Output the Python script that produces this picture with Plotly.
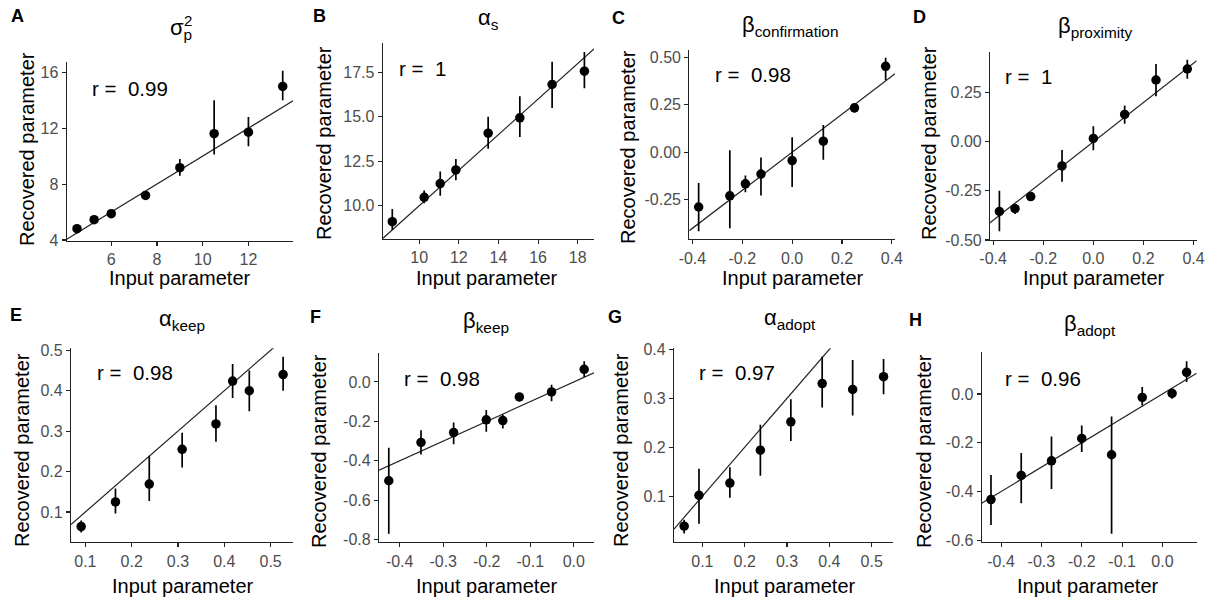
import numpy as np
import plotly.graph_objects as go

W, H = 1213, 598

# ---------------- data ----------------
letters = ["A", "B", "C", "D", "E", "F", "G", "H"]
titles = ["σ<sub>p</sub>", "α<sub>s</sub>", "β<sub>confirmation</sub>", "β<sub>proximity</sub>",
          "α<sub>keep</sub>", "β<sub>keep</sub>", "α<sub>adopt</sub>", "β<sub>adopt</sub>"]
r_values = ["0.99", "1", "0.98", "1", "0.98", "0.98", "0.97", "0.96"]

a_input = [4.5, 5.25, 6, 7.5, 9, 10.5, 12, 13.5]
a_mean = [4.81, 5.45, 5.88, 7.19, 9.17, 11.6, 11.71, 14.98]
a_lo = [4.66, 5.33, 5.76, 6.98, 8.6, 10.12, 10.7, 14.0]
a_hi = [4.96, 5.57, 6.0, 7.4, 9.8, 14.0, 12.8, 16.1]

b_input = [8.64, 10.25, 11.06, 11.85, 13.48, 15.08, 16.71, 18.34]
b_mean = [9.1, 10.47, 11.24, 12.01, 14.08, 14.94, 16.82, 17.57]
b_lo = [8.63, 10.13, 10.55, 11.43, 13.2, 13.86, 15.5, 16.6]
b_hi = [9.81, 10.85, 11.92, 12.63, 15.0, 16.15, 18.1, 18.65]

c_input = [-0.375, -0.25, -0.1875, -0.125, 0.0, 0.125, 0.25, 0.375]
c_mean = [-0.288, -0.229, -0.166, -0.115, -0.044, 0.058, 0.234, 0.452]
c_lo = [-0.415, -0.40, -0.211, -0.227, -0.183, -0.04, 0.208, 0.379]
c_hi = [-0.162, 0.01, -0.122, -0.028, 0.079, 0.143, 0.25, 0.497]

d_input = [-0.375, -0.3125, -0.25, -0.125, 0.0, 0.125, 0.25, 0.375]
d_mean = [-0.355, -0.34, -0.279, -0.123, 0.017, 0.139, 0.314, 0.37]
d_lo = [-0.456, -0.368, -0.3, -0.204, -0.044, 0.091, 0.231, 0.321]
d_hi = [-0.25, -0.318, -0.258, -0.042, 0.079, 0.184, 0.395, 0.417]

e_input = [0.091, 0.165, 0.238, 0.309, 0.382, 0.418, 0.454, 0.527]
e_mean = [0.064, 0.125, 0.169, 0.255, 0.318, 0.424, 0.4, 0.44]
e_lo = [0.049, 0.096, 0.127, 0.21, 0.274, 0.382, 0.349, 0.4]
e_hi = [0.079, 0.158, 0.239, 0.296, 0.364, 0.466, 0.45, 0.484]

f_input = [-0.425, -0.351, -0.276, -0.201, -0.163, -0.125, -0.051, 0.024]
f_mean = [-0.501, -0.307, -0.257, -0.192, -0.196, -0.076, -0.051, 0.064]
f_lo = [-0.77, -0.368, -0.316, -0.253, -0.236, -0.098, -0.098, 0.025]
f_hi = [-0.334, -0.245, -0.206, -0.143, -0.165, -0.059, -0.014, 0.105]

g_input = [0.057, 0.092, 0.165, 0.237, 0.309, 0.383, 0.455, 0.528]
g_mean = [0.039, 0.102, 0.127, 0.194, 0.252, 0.33, 0.318, 0.344]
g_lo = [0.024, 0.044, 0.097, 0.142, 0.213, 0.281, 0.265, 0.308]
g_hi = [0.052, 0.156, 0.159, 0.246, 0.298, 0.385, 0.378, 0.38]

h_input = [-0.425, -0.35, -0.275, -0.2, -0.126, -0.05, 0.024, 0.06]
h_mean = [-0.433, -0.334, -0.274, -0.182, -0.249, -0.014, 0.003, 0.089]
h_lo = [-0.537, -0.448, -0.389, -0.238, -0.573, -0.047, -0.019, 0.049]
h_hi = [-0.332, -0.242, -0.174, -0.129, -0.092, 0.029, 0.02, 0.134]

x_ticks = [[6, 8, 10, 12], [10, 12, 14, 16, 18], [-0.4, -0.2, 0, 0.2, 0.4], [-0.4, -0.2, 0, 0.2, 0.4],
           [0.1, 0.2, 0.3, 0.4, 0.5], [-0.4, -0.3, -0.2, -0.1, 0.0], [0.1, 0.2, 0.3, 0.4, 0.5],
           [-0.4, -0.3, -0.2, -0.1, 0.0]]
x_labels = [["6", "8", "10", "12"], ["10", "12", "14", "16", "18"],
            ["-0.4", "-0.2", "0.0", "0.2", "0.4"], ["-0.4", "-0.2", "0.0", "0.2", "0.4"],
            ["0.1", "0.2", "0.3", "0.4", "0.5"], ["-0.4", "-0.3", "-0.2", "-0.1", "0.0"],
            ["0.1", "0.2", "0.3", "0.4", "0.5"], ["-0.4", "-0.3", "-0.2", "-0.1", "0.0"]]
y_ticks = [[4, 8, 12, 16], [10, 12.5, 15, 17.5], [-0.25, 0, 0.25, 0.5], [-0.5, -0.25, 0, 0.25],
           [0.1, 0.2, 0.3, 0.4, 0.5], [-0.8, -0.6, -0.4, -0.2, 0.0], [0.1, 0.2, 0.3, 0.4],
           [-0.6, -0.4, -0.2, 0.0]]
y_labels = [["4", "8", "12", "16"], ["10.0", "12.5", "15.0", "17.5"],
            ["-0.25", "0.00", "0.25", "0.50"], ["-0.50", "-0.25", "0.00", "0.25"],
            ["0.1", "0.2", "0.3", "0.4", "0.5"], ["-0.8", "-0.6", "-0.4", "-0.2", "0.0"],
            ["0.1", "0.2", "0.3", "0.4"], ["-0.6", "-0.4", "-0.2", "0.0"]]

inputs = [a_input, b_input, c_input, d_input, e_input, f_input, g_input, h_input]
means = [a_mean, b_mean, c_mean, d_mean, e_mean, f_mean, g_mean, h_mean]
lows = [a_lo, b_lo, c_lo, d_lo, e_lo, f_lo, g_lo, h_lo]
highs = [a_hi, b_hi, c_hi, d_hi, e_hi, f_hi, g_hi, h_hi]

# ---------------- layout (window pixels) ----------------
# plot boxes: left, right, top, bottom
boxes = [(66.7, 293, 61.7, 240.7), (382.7, 594, 42.7, 238.7), (689.3, 895, 50, 239.3),
         (990, 1196.7, 51.7, 240), (71, 293.3, 348.3, 542.3), (379, 594, 352.7, 542.3),
         (674, 893.3, 348.3, 542.3), (981.7, 1196.7, 352.3, 542.3)]
x_ranges = [[4.05, 13.95], [8.155, 18.825], [-0.4125, 0.4125], [-0.4125, 0.4125],
            [0.069, 0.549], [-0.4475, 0.0465], [0.033, 0.551], [-0.448, 0.085]]
y_ranges = [[3.95, 16.75], [8.14, 19.17], [-0.458, 0.538], [-0.5, 0.458],
            [0.025, 0.505], [-0.813, 0.148], [0.006, 0.402], [-0.608, 0.171]]
letter_pos = [(17, 16), (319, 16), (618, 18), (919, 17), (16, 315), (315, 317), (615, 317), (916, 320)]
title_pos = [(181, 29), (488, 19), (790, 26), (1095, 27), (182, 320), (486, 322), (790, 319), (1090, 325)]
r_pos = [(90, 88), (397, 68), (713, 74), (1003, 76), (95, 372), (402, 378), (697, 372), (1003, 378)]
xt_pos = [(180, 278), (487, 278), (793, 278), (1094, 278), (183, 586), (487, 586), (785, 586), (1088, 586)]
yt_pos = [(27, 149), (324, 143), (628, 147), (929, 143), (22, 450), (319, 451), (621, 450), (924, 451)]

FONT = "Liberation Sans, Arial, sans-serif"


def px(x):
    return x / W


def py(y):
    return 1 - y / H


fig = go.Figure()
annotations = []
for i in range(8):
    n = "" if i == 0 else str(i + 1)
    xa, ya = "x" + n, "y" + n
    x = np.array(inputs[i])
    y = np.array(means[i])
    lo = np.array(lows[i])
    hi = np.array(highs[i])
    # identity line
    xr = x_ranges[i]
    fig.add_trace(go.Scatter(x=xr, y=xr, mode="lines", line=dict(color="#222", width=1.2),
                             xaxis=xa, yaxis=ya, showlegend=False, hoverinfo="skip"))
    fig.add_trace(go.Scatter(x=x, y=y, mode="markers",
                             marker=dict(color="black", size=9.5),
                             error_y=dict(type="data", symmetric=False, array=hi - y, arrayminus=y - lo,
                                          color="black", thickness=1.7, width=0),
                             xaxis=xa, yaxis=ya, showlegend=False, cliponaxis=False))
    L, R, T, B = boxes[i]
    axis_common = dict(showline=True, linecolor="#222", linewidth=1.1, ticks="outside", ticklen=4,
                       tickcolor="#222", tickwidth=1.1, showgrid=False, zeroline=False,
                       tickfont=dict(family=FONT, size=16, color="#4d4d4d"), tickmode="array",
                       automargin=False)
    fig.layout["xaxis" + n] = dict(domain=[px(L), px(R)], range=x_ranges[i], anchor=ya,
                                   tickvals=x_ticks[i], ticktext=x_labels[i], **axis_common)
    fig.layout["yaxis" + n] = dict(domain=[py(B), py(T)], range=y_ranges[i], anchor=xa,
                                   tickvals=y_ticks[i], ticktext=y_labels[i], **axis_common)
    # panel letter
    annotations.append(dict(x=px(letter_pos[i][0]), y=py(letter_pos[i][1]), xref="paper", yref="paper",
                            text="<b>" + letters[i] + "</b>", showarrow=False, xanchor="center",
                            yanchor="middle", font=dict(family=FONT, size=18, color="black")))
    # title
    annotations.append(dict(x=px(title_pos[i][0]), y=py(title_pos[i][1]), xref="paper", yref="paper",
                            text=titles[i], showarrow=False, xanchor="center", yanchor="middle",
                            font=dict(family=FONT, size=22, color="black")))
    # r label
    annotations.append(dict(x=px(r_pos[i][0]), y=py(r_pos[i][1]), xref="paper", yref="paper",
                            text="r = \u00a0" + r_values[i], showarrow=False, xanchor="left",
                            yanchor="middle", font=dict(family=FONT, size=20.5, color="black")))
    # axis titles
    annotations.append(dict(x=px(xt_pos[i][0]), y=py(xt_pos[i][1]), xref="paper", yref="paper",
                            text="Input parameter", showarrow=False, xanchor="center", yanchor="middle",
                            font=dict(family=FONT, size=20, color="black")))
    annotations.append(dict(x=px(yt_pos[i][0]), y=py(yt_pos[i][1]), xref="paper", yref="paper",
                            text="Recovered parameter", showarrow=False, xanchor="center",
                            yanchor="middle", textangle=-90,
                            font=dict(family=FONT, size=20, color="black")))

# superscript "2" for sigma_p^2 (stacked above the subscript)
annotations.append(dict(x=px(188), y=py(21), xref="paper", yref="paper", text="2", showarrow=False,
                        xanchor="center", yanchor="middle", font=dict(family=FONT, size=15, color="black")))

fig.update_layout(width=W, height=H, margin=dict(l=0, r=0, t=0, b=0, autoexpand=False),
                  plot_bgcolor="white", paper_bgcolor="white", annotations=annotations,
                  hovermode=False)

# remove the browser's default page margin so the figure fills the window exactly
fig.write_html("out.html", config={"displayModeBar": False, "staticPlot": True},
               post_script="document.body.style.margin='0';document.body.style.overflow='hidden';")
